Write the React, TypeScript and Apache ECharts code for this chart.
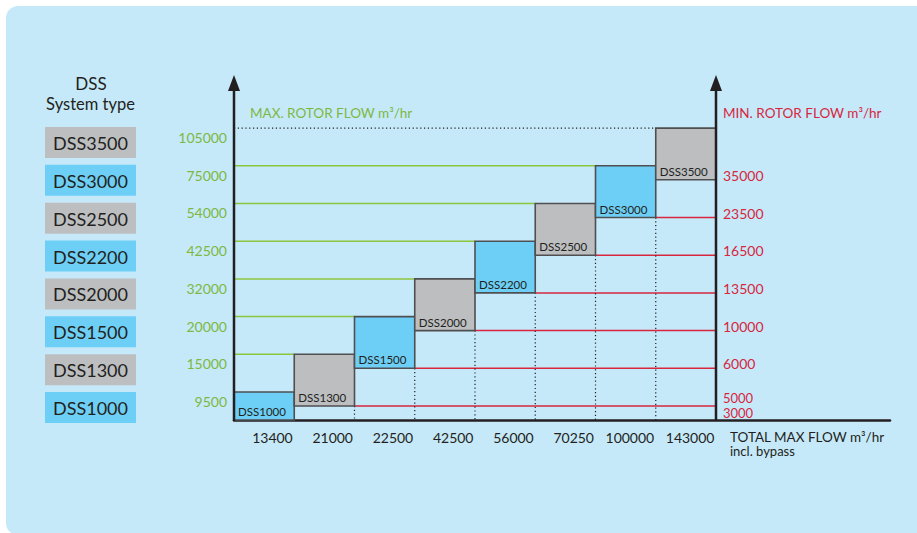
import React, { useEffect, useRef } from 'react';
import * as echarts from 'echarts';

// ---- data ----
const models = ['DSS1000', 'DSS1300', 'DSS1500', 'DSS2000', 'DSS2200', 'DSS2500', 'DSS3000', 'DSS3500'];
const maxRotorFlow = [9500, 15000, 20000, 32000, 42500, 54000, 75000, 105000];
const minRotorFlow = [3000, 5000, 6000, 10000, 13500, 16500, 23500, 35000];
const totalMaxFlow = [13400, 21000, 22500, 42500, 56000, 70250, 100000, 143000];
const maxTitle = 'MAX. ROTOR FLOW m³/hr';
const minTitle = 'MIN. ROTOR FLOW m³/hr';
const xTitle = 'TOTAL MAX FLOW m³/hr';
const xSubTitle = 'incl. bypass';

// ---- style ----
const FONT = 'Lato, "Noto Sans", sans-serif';
const BLUE = '#6dcff6';
const GRAY = '#bcbec0';
const DARK = '#231f20';
const GREEN_TXT = '#7cb842';
const GREEN_LINE = '#8cc63f';
const RED = '#d7263d';
const BOX_STROKE = '#4f4f51';
const fillFor = (i: number) => (i % 2 === 0 ? BLUE : GRAY);

// ordinal layout levels (in steps)
const topLevel = (i: number) => i + 0.743;
const bottomLevel = (i: number) => (i === 0 ? 0 : i - 0.629);
const N = models.length;
const X_MAX = 10.888;
const Y_MAX = 9.151;

export default function App() {
  const ref = useRef<HTMLDivElement>(null);
  useEffect(() => {
    const chart = echarts.init(ref.current!, null, { renderer: 'svg' });

    const boxData = models.map((_, i) => [i, topLevel(i), bottomLevel(i)]);

    const legendGraphics: any[] = [];
    models.forEach((m, i) => {
      const top = 392 - 37.86 * i;
      legendGraphics.push({
        type: 'rect',
        shape: { x: 45, y: top, width: 91, height: 31 },
        style: { fill: fillFor(i) },
      });
      legendGraphics.push({
        type: 'text',
        x: 90.5,
        y: top + 16,
        style: { text: m, fill: DARK, font: `18px ${FONT}`, align: 'center', verticalAlign: 'middle' },
      });
    });

    const option: any = {
      animation: false,
      backgroundColor: '#ffffff',
      grid: { left: 234, right: 27, top: 75, bottom: 113 },
      xAxis: {
        type: 'value',
        min: 0,
        max: X_MAX,
        axisLine: { show: true, onZero: false, lineStyle: { color: DARK, width: 2.5 } },
        axisTick: { show: false },
        axisLabel: { show: false },
        splitLine: { show: false },
      },
      yAxis: {
        type: 'value',
        min: 0,
        max: Y_MAX,
        axisLine: { show: false },
        axisTick: { show: false },
        axisLabel: { show: false },
        splitLine: { show: false },
      },
      graphic: [
        {
          type: 'rect',
          z: -10,
          shape: { x: 6, y: 6, width: 960, height: 529, r: 12 },
          style: { fill: '#c6e9f9' },
        },
        {
          type: 'text',
          x: 91,
          y: 83,
          style: { text: 'DSS', fill: DARK, font: `17px ${FONT}`, align: 'center', verticalAlign: 'middle' },
        },
        {
          type: 'text',
          x: 90.5,
          y: 104,
          style: { text: 'System type', fill: DARK, font: `16.5px ${FONT}`, align: 'center', verticalAlign: 'middle' },
        },
        ...legendGraphics,
      ],
      series: [
        {
          type: 'custom',
          name: 'boxes',
          clip: false,
          encode: { x: 0, y: 1 },
          data: boxData,
          renderItem: (params: any, api: any) => {
            const i = api.value(0);
            const top = api.value(1);
            const bottom = api.value(2);
            const pTL = api.coord([i, top]);
            const pBR = api.coord([i + 1, bottom]);
            const axisL = api.coord([0, top]);
            const axisR = api.coord([N, bottom]);
            const base = api.coord([i + 1, 0]);
            const children: any[] = [];
            const last = i === N - 1;
            if (i > 0) {
              children.push({
                type: 'line',
                shape: { x1: axisL[0], y1: pTL[1], x2: pTL[0], y2: pTL[1] },
                style: last
                  ? { stroke: DARK, lineWidth: 1.2, lineDash: [1.2, 2.6] }
                  : { stroke: GREEN_LINE, lineWidth: 1.5 },
              });
            }
            if (i > 0 && !last) {
              children.push({
                type: 'line',
                shape: { x1: pBR[0], y1: pBR[1], x2: axisR[0], y2: pBR[1] },
                style: { stroke: RED, lineWidth: 1.5 },
              });
              children.push({
                type: 'line',
                shape: { x1: pBR[0], y1: pBR[1], x2: base[0], y2: base[1] },
                style: { stroke: DARK, lineWidth: 1.2, lineDash: [1.2, 2.6] },
              });
            }
            children.push({
              type: 'rect',
              shape: { x: pTL[0], y: pTL[1], width: pBR[0] - pTL[0], height: pBR[1] - pTL[1] },
              style: { fill: fillFor(i), stroke: BOX_STROKE, lineWidth: 1.6 },
            });
            children.push({
              type: 'text',
              x: pTL[0] + 4,
              y: pBR[1] - 2.5,
              style: { text: models[i], fill: DARK, font: `11.5px ${FONT}`, align: 'left', verticalAlign: 'bottom' },
            });
            // left (max rotor flow) label
            children.push({
              type: 'text',
              x: axisL[0] - 7,
              y: pTL[1] + 9.5,
              style: { text: String(maxRotorFlow[i]), fill: GREEN_TXT, font: `14px ${FONT}`, align: 'right', verticalAlign: 'middle' },
            });
            // right (min rotor flow) label
            const rOff = i === 0 ? -7 : i === 1 ? -8.5 : -4.5;
            children.push({
              type: 'text',
              x: axisR[0] + 7,
              y: pBR[1] + rOff,
              style: {
                text: String(minRotorFlow[i]),
                fill: RED,
                font: `${i <= 1 ? 13 : 14}px ${FONT}`,
                align: 'left',
                verticalAlign: 'middle',
              },
            });
            // x label
            children.push({
              type: 'text',
              x: pBR[0] - 1.5,
              y: base[1] + 17,
              style: { text: String(totalMaxFlow[i]), fill: DARK, font: `14px ${FONT}`, align: 'right', verticalAlign: 'middle' },
            });
            return { type: 'group', children };
          },
        },
        {
          type: 'custom',
          name: 'axes',
          clip: false,
          encode: { x: 0, y: 1 },
          data: [[0, 0]],
          z: 5,
          renderItem: (params: any, api: any) => {
            const children: any[] = [];
            [0, N].forEach((xv) => {
              const b = api.coord([xv, 0]);
              const t = api.coord([xv, Y_MAX]);
              children.push({
                type: 'line',
                shape: { x1: b[0], y1: b[1] + 1, x2: t[0], y2: t[1] + 8 },
                style: { stroke: DARK, lineWidth: 2.5 },
              });
              children.push({
                type: 'polygon',
                shape: { points: [[t[0], t[1]], [t[0] - 6, t[1] + 16], [t[0] + 6, t[1] + 16]] },
                style: { fill: DARK },
              });
            });
            const o = api.coord([0, 0]);
            const r = api.coord([N, 0]);
            const top = api.coord([0, Y_MAX]);
            children.push({
              type: 'text',
              x: o[0] + 16,
              y: top[1] + 38,
              style: { text: maxTitle, fill: GREEN_TXT, font: `13.5px ${FONT}`, align: 'left', verticalAlign: 'middle' },
            });
            children.push({
              type: 'text',
              x: r[0] + 7,
              y: top[1] + 38,
              style: { text: minTitle, fill: RED, font: `13.5px ${FONT}`, align: 'left', verticalAlign: 'middle' },
            });
            children.push({
              type: 'text',
              x: r[0] + 14,
              y: o[1] + 16.5,
              style: { text: xTitle, fill: DARK, font: `13.5px ${FONT}`, align: 'left', verticalAlign: 'middle' },
            });
            children.push({
              type: 'text',
              x: r[0] + 14,
              y: o[1] + 31,
              style: { text: xSubTitle, fill: DARK, font: `13px ${FONT}`, align: 'left', verticalAlign: 'middle' },
            });
            return { type: 'group', children };
          },
        },
      ],
    };
    chart.setOption(option);
    return () => chart.dispose();
  }, []);
  return <div ref={ref} style={{ position: 'fixed', left: 0, top: 0, width: 917, height: 533 }} />;
}
